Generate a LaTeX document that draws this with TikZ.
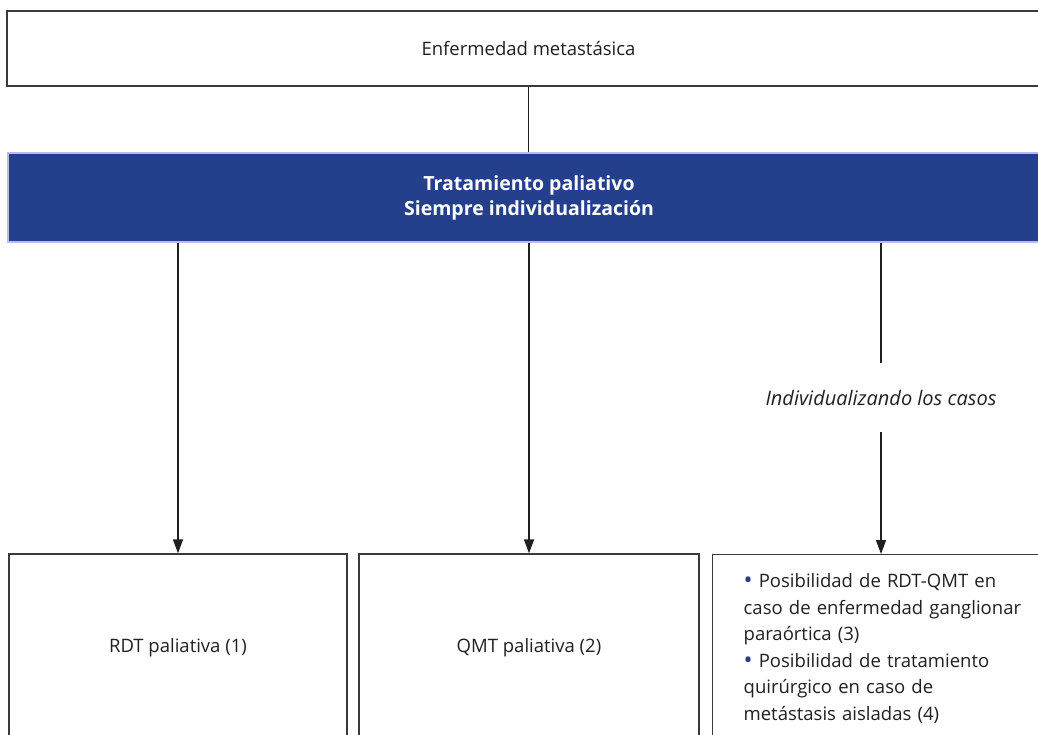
\documentclass[tikz,border=0pt]{standalone}
\usepackage{fontspec}
\setmainfont{Open Sans}
\usetikzlibrary{arrows.meta}
\definecolor{barblue}{HTML}{243F8B}
\definecolor{barrim}{HTML}{B9BEE0}
\definecolor{boxline}{HTML}{3A3A3A}
\definecolor{txt}{HTML}{231F20}
\tikzset{
  box/.style={draw=boxline, line width=1.3pt, text=txt, inner sep=0pt,
    font=\fontsize{18.5}{26.5}\selectfont},
  bar/.style={fill=barblue, draw=barrim, line width=2pt, text=white, align=center,
    font=\fontsize{19.5}{25}\selectfont\bfseries},
  link/.style={draw=txt, line width=1.4pt},
  arr/.style={link, -{Triangle[length=14pt,width=10pt]}}
}
\newcommand{\blt}{\textcolor{barblue}{\fontsize{24}{10}\selectfont\raisebox{-0.6pt}{•}}}
\begin{document}
\begin{tikzpicture}[x=1pt,y=-1pt]
    \useasboundingbox (0,0) rectangle (1038,735);
    \clip (0,0) rectangle (1038,735);
    % Top box
    \node [box, minimum width=1043pt, minimum height=75pt] (ill) at (528.5,48.5) {Enfermedad metastásica};
    % Palliative bar
    \node [bar, minimum width=1042pt, minimum height=89pt] (pal) at (529,197.5)
      {Tratamiento paliativo\\Siempre individualización};
    \draw [link] (ill.south) -- (ill.south |- pal.north);
    % Bottom boxes
    \node [box, minimum width=338pt, minimum height=188pt] (rdt) at (178,648) {RDT paliativa (1)};
    \node [box, minimum width=340pt, minimum height=188pt] (qmt) at (529,648) {QMT paliativa (2)};
    \node [box, anchor=north west, inner xsep=31pt, text width=310pt, align=left,
      minimum height=188pt] (mets) at (712,554)
      {\blt{} Posibilidad de RDT-QMT en\\caso de enfermedad ganglionar\\paraórtica (3)\\
       \blt{} Posibilidad de tratamiento\\quirúrgico en caso de\\metástasis aisladas (4)};
    % Label on the right branch
    \node [text=txt, inner sep=0pt, minimum height=69pt, font=\fontsize{20}{22}\selectfont\itshape]
      (lbl) at (881,397.5) {Individualizando los casos};
    % Arrows
    \draw [arr] (pal.south -| rdt.north) -- (rdt.north);
    \draw [arr] (pal.south -| qmt.north) -- (qmt.north);
    \draw [link] (pal.south -| lbl.north) -- (lbl.north);
    \draw [arr] (lbl.south) -- (lbl.south |- mets.north);
\end{tikzpicture}
\end{document}
